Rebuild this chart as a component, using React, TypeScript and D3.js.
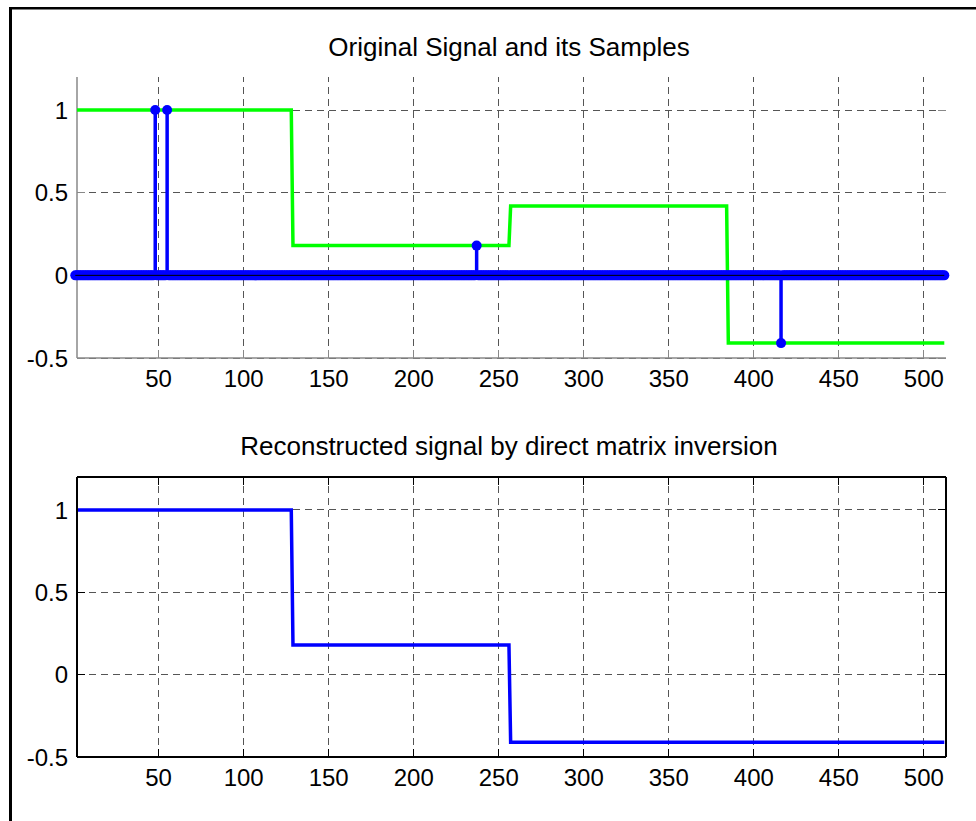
import React from "react";
import * as d3 from "d3";

// Signal length and axis ticks
const N = 512;
const xTicks = [50, 100, 150, 200, 250, 300, 350, 400, 450, 500];
const yTicks = [-0.5, 0, 0.5, 1];

// Original piecewise-constant signal (segment start, end, level)
const origStarts = [1, 129, 257, 385];
const origEnds = [128, 256, 384, 512];
const origLevels = [1, 0.18, 0.42, -0.41];

// Reconstructed signal by direct matrix inversion
const recStarts = [1, 129, 257];
const recEnds = [128, 256, 512];
const recLevels = [1, 0.18, -0.41];

// Non-zero samples of the signal
const sampleIdx = [48, 55, 237, 416];
const sampleVals = [1, 1, 0.18, -0.41];

const W = 976;
const H = 821;
const FONT = "'Liberation Sans', Arial, Helvetica, sans-serif";
const GREEN = "#00ff00";
const BLUE = "#0000ff";

const x = d3.scaleLinear().domain([2, 513]).range([77, 946]);
const yTop = d3.scaleLinear().domain([-0.5, 1.2]).range([358, 77]);
const yBot = d3.scaleLinear().domain([-0.5, 1.2]).range([757, 477]);

function segPoints(starts: number[], ends: number[], levels: number[]): [number, number][] {
  const pts: [number, number][] = [];
  starts.forEach((s, i) => {
    pts.push([s, levels[i]]);
    pts.push([ends[i], levels[i]]);
  });
  return pts;
}

// Full sampled vector: zero except at the sample positions
const sampled: number[] = d3.range(1, N + 1).map((i) => {
  const k = sampleIdx.indexOf(i);
  return k >= 0 ? sampleVals[k] : 0;
});

function Grid({ y, axisColor, box }: { y: d3.ScaleLinear<number, number>; axisColor: string; box: boolean }) {
  const [x0, x1] = x.range();
  const [yb, yt] = y.range();
  const tick = 8;
  return (
    <g>
      {xTicks.map((t) => (
        <line key={"gx" + t} x1={x(t)} x2={x(t)} y1={yb} y2={yt} stroke="#555" strokeWidth={1} strokeDasharray="7,5" shapeRendering="crispEdges" />
      ))}
      {yTicks.map((t) => (
        <line key={"gy" + t} x1={x0} x2={x1} y1={y(t)} y2={y(t)} stroke="#555" strokeWidth={1} strokeDasharray="7,5" shapeRendering="crispEdges" />
      ))}
      {/* inward ticks */}
      {xTicks.map((t) => (
        <g key={"tx" + t}>
          <line x1={x(t)} x2={x(t)} y1={yb} y2={yb - tick} stroke={axisColor} strokeWidth={1} shapeRendering="crispEdges" />
          {box && <line x1={x(t)} x2={x(t)} y1={yt} y2={yt + tick} stroke={axisColor} strokeWidth={1} shapeRendering="crispEdges" />}
        </g>
      ))}
      {yTicks.map((t) => (
        <g key={"ty" + t}>
          <line x1={x0} x2={x0 + tick} y1={y(t)} y2={y(t)} stroke={axisColor} strokeWidth={1} shapeRendering="crispEdges" />
          <line x1={x1} x2={x1 - tick} y1={y(t)} y2={y(t)} stroke={axisColor} strokeWidth={1} shapeRendering="crispEdges" />
        </g>
      ))}
    </g>
  );
}

function Axes({ y, axisColor, box, width }: { y: d3.ScaleLinear<number, number>; axisColor: string; box: boolean; width: number }) {
  const [x0, x1] = x.range();
  const [yb, yt] = y.range();
  return (
    <g>
      <line x1={x0} x2={x0} y1={yb} y2={yt} stroke={axisColor} strokeWidth={width} />
      <line x1={x0} x2={x1} y1={yb} y2={yb} stroke={axisColor} strokeWidth={width} />
      {box && <line x1={x1} x2={x1} y1={yb} y2={yt} stroke={axisColor} strokeWidth={width} />}
      {box && <line x1={x0} x2={x1} y1={yt} y2={yt} stroke={axisColor} strokeWidth={width} />}
      {yTicks.map((t) => (
        <text key={"ly" + t} x={x0 - 9} y={y(t)} dy="0.36em" textAnchor="end" fontFamily={FONT} fontSize={24} fill="#000">
          {t}
        </text>
      ))}
      {xTicks.map((t) => (
        <text key={"lx" + t} x={x(t)} y={yb + 29} textAnchor="middle" fontFamily={FONT} fontSize={24} fill="#000">
          {t}
        </text>
      ))}
    </g>
  );
}

export default function App() {
  const line = (y: d3.ScaleLinear<number, number>) =>
    d3
      .line<[number, number]>()
      .x((d) => x(d[0]))
      .y((d) => y(d[1]));

  const origPath = line(yTop)(segPoints(origStarts, origEnds, origLevels)) || "";
  const recPath = line(yBot)(segPoints(recStarts, recEnds, recLevels)) || "";

  const [x0, x1] = x.range();

  return (
    <svg width={W} height={H} style={{ position: "absolute", left: 0, top: 0, background: "#fff" }}>
      <defs>
        <clipPath id="clipTop">
          <rect x={x0} y={0} width={x1 - x0 + 10} height={H} />
        </clipPath>
      </defs>
      <rect x={0} y={0} width={W} height={H} fill="#fff" />
      {/* figure frame */}
      <line x1={10.5} x2={10.5} y1={7} y2={H} stroke="#000" strokeWidth={3} />
      <line x1={9} x2={W} y1={8.3} y2={8.3} stroke="#000" strokeWidth={2.5} />

      {/* Top subplot */}
      <text x={509} y={56} textAnchor="middle" fontFamily={FONT} fontSize={26} fill="#000">
        Original Signal and its Samples
      </text>
      <Grid y={yTop} axisColor="#888" box={false} />
      <Axes y={yTop} axisColor="#888" box={false} width={1.5} />
      <g clipPath="url(#clipTop)">
        <path d={origPath} fill="none" stroke={GREEN} strokeWidth={3.5} strokeLinejoin="miter" />
      </g>
      <g>
        {sampled.map((v, i) =>
          v !== 0 ? (
            <line key={"s" + i} x1={x(i + 1)} x2={x(i + 1)} y1={yTop(0)} y2={yTop(v)} stroke={BLUE} strokeWidth={3.5} />
          ) : null
        )}
        {sampled.map((v, i) => (
          <circle key={"m" + i} cx={x(i + 1)} cy={yTop(v)} r={5} fill={BLUE} />
        ))}
        <line x1={x(1)} x2={x(N)} y1={yTop(0)} y2={yTop(0)} stroke="#000" strokeWidth={1} />
      </g>

      {/* Bottom subplot */}
      <text x={509} y={455} textAnchor="middle" fontFamily={FONT} fontSize={26} fill="#000">
        Reconstructed signal by direct matrix inversion
      </text>
      <Grid y={yBot} axisColor="#000" box={true} />
      <g clipPath="url(#clipTop)">
        <path d={recPath} fill="none" stroke={BLUE} strokeWidth={3.5} />
      </g>
      <Axes y={yBot} axisColor="#000" box={true} width={2} />
    </svg>
  );
}
